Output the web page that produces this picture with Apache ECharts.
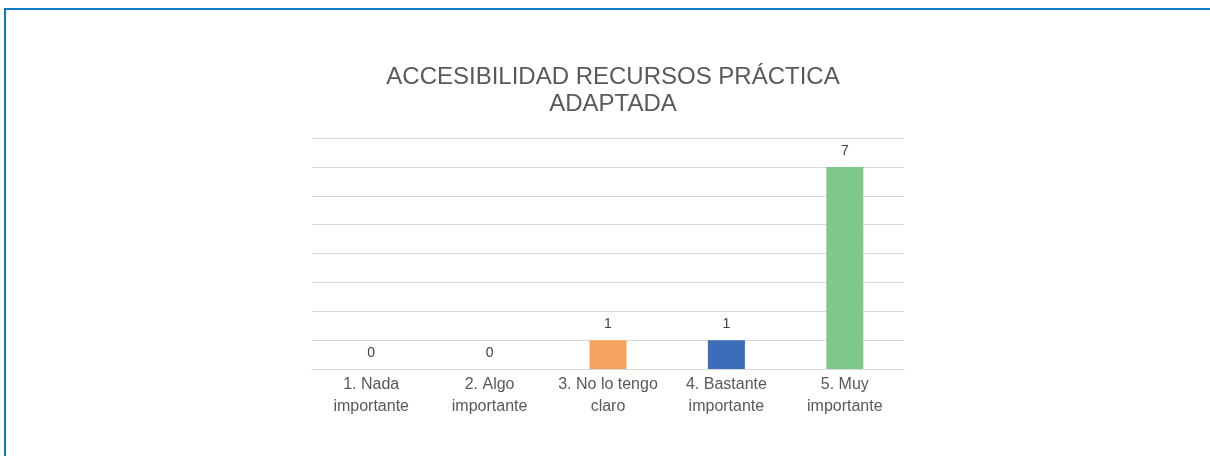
<!DOCTYPE html>
<html><head><meta charset="utf-8">
<script src="https://cdn.jsdelivr.net/npm/echarts@6/dist/echarts.min.js"></script>
<style>
html,body{margin:0;padding:0;background:#fff;}
#frame{position:absolute;left:4px;top:8px;width:1206px;height:448px;border-left:2px solid #0b7bc4;border-top:2px solid #0b7bc4;box-sizing:border-box;}
#c{position:absolute;left:0;top:0;width:1210px;height:456px;}
</style></head>
<body>
<div id="frame"></div>
<div id="c"></div>
<script>
const titleText = "ACCESIBILIDAD RECURSOS PRÁCTICA\nADAPTADA";
const categories = ["1. Nada\nimportante","2. Algo\nimportante","3. No lo tengo\nclaro","4. Bastante\nimportante","5. Muy\nimportante"];
const values = [0, 0, 1, 1, 7];
const colors = ["#a5a5a5","#ffc000","#f5a35f","#3b6db8","#7fc88a"];
const yMin = 0, yMax = 8, yInterval = 1;

const FONT = 'Liberation Sans, Arial, sans-serif';
const chart = echarts.init(document.getElementById('c'), null, {renderer:'canvas'});
chart.setOption({
  backgroundColor: 'transparent',
  animation: false,
  title: {
    text: titleText, left: 608, top: 59,
    textAlign: 'center',
    textStyle: {fontFamily: FONT, fontSize: 24, fontWeight: 'normal', color: '#595959', lineHeight: 27}
  },
  grid: {left: 312, right: 1210-904, top: 138, bottom: 456-369, containLabel: false},
  xAxis: {
    type: 'category', data: categories,
    axisLine: {lineStyle: {color: '#d9d9d9', width: 1}},
    axisTick: {show: false},
    axisLabel: {fontFamily: FONT, fontSize: 16, color: '#595959', lineHeight: 22, margin: 5, interval: 0}
  },
  yAxis: {
    type: 'value', min: yMin, max: yMax, interval: yInterval,
    axisLine: {show: false}, axisTick: {show: false}, axisLabel: {show: false},
    splitLine: {lineStyle: {color: '#d9d9d9', width: 1}}
  },
  series: [{
    type: 'bar', barWidth: 37,
    data: values.map((v,i)=>({value:v, itemStyle:{color:colors[i]}})),
    label: {show: true, position: 'top', distance: 9, fontFamily: FONT, fontSize: 14, color: '#404040'}
  }]
});
</script>
</body></html>
